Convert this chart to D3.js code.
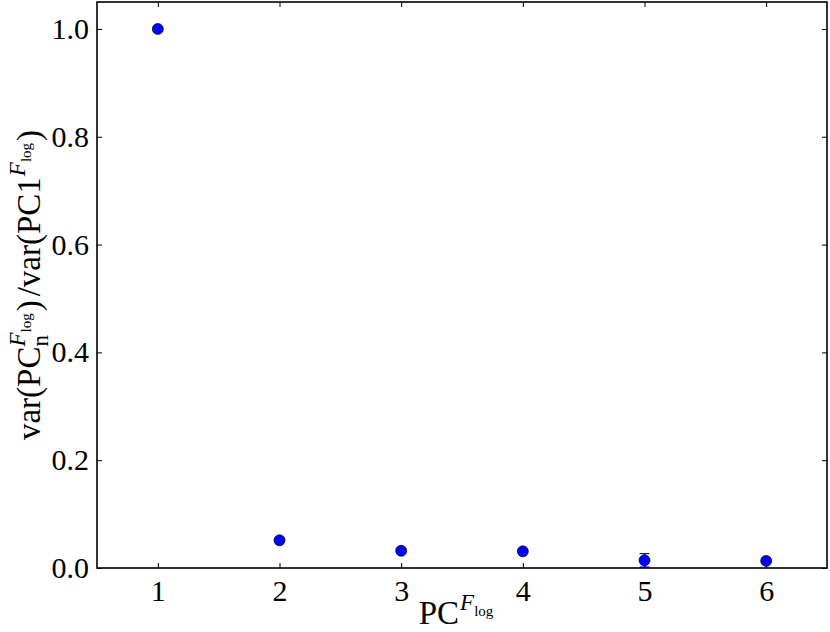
<!DOCTYPE html>
<html>
<head>
<meta charset="utf-8">
<script src="https://cdn.jsdelivr.net/npm/d3@7"></script>
<style>
  body { margin: 0; background: #fff; }
  svg { display: block; }
</style>
</head>
<body>
<svg id="chart" width="830" height="632"></svg>
<script>
// principal components (x) and normalised variance (y), with error bars
const components = [1, 2, 3, 4, 5, 6];
const varRatio = [1.0, 0.0514, 0.032, 0.031, 0.0143, 0.0132];
const varErr = [0.0, 0.004, 0.002, 0.002, 0.0125, 0.002];
const yTicks = [0.0, 0.2, 0.4, 0.6, 0.8, 1.0];

const SERIF = "'Liberation Serif', 'DejaVu Serif', serif";
const width = 830, height = 632;
const margin = {top: 2, right: 3, bottom: 64, left: 97};
const iw = width - margin.left - margin.right;
const ih = height - margin.top - margin.bottom;

const svg = d3.select("#chart");
const g = svg.append("g").attr("transform", `translate(${margin.left},${margin.top})`);

const x = d3.scaleLinear().domain([0.5, 6.5]).range([0, iw]);
const y = d3.scaleLinear().domain([0, 1.05]).range([ih, 0]);

// ticks, pointing inward on every side
const tickLen = 5;
const styleAxis = sel => {
  sel.attr("font-family", SERIF);
  sel.select(".domain").remove();
  sel.selectAll(".tick line").attr("stroke", "#000").attr("stroke-width", 1);
  sel.selectAll(".tick text").style("font-family", SERIF).style("font-size", "30px");
};
g.append("g").attr("transform", `translate(0,${ih})`)
  .call(d3.axisBottom(x).tickValues(components).tickFormat(d3.format("d"))
    .tickSizeInner(-tickLen).tickPadding(12))
  .call(styleAxis);
g.append("g")
  .call(d3.axisTop(x).tickValues(components).tickFormat("").tickSizeInner(-tickLen))
  .call(styleAxis);
g.append("g")
  .call(d3.axisLeft(y).tickValues(yTicks).tickFormat(d3.format(".1f"))
    .tickSizeInner(-tickLen).tickPadding(8))
  .call(styleAxis);
g.append("g").attr("transform", `translate(${iw},0)`)
  .call(d3.axisRight(y).tickValues(yTicks).tickFormat("").tickSizeInner(-tickLen))
  .call(styleAxis);

// error bars
const pts = components.map((c, i) => ({c, v: varRatio[i], e: varErr[i]}));
const eb = g.append("g").selectAll("g").data(pts.filter(d => d.e > 0)).join("g")
  .attr("stroke", "#0000ff").attr("stroke-width", 1.2);
eb.append("line")
  .attr("x1", d => x(d.c)).attr("x2", d => x(d.c))
  .attr("y1", d => y(d.v - d.e)).attr("y2", d => y(d.v + d.e));
eb.append("line")
  .attr("x1", d => x(d.c) - 5).attr("x2", d => x(d.c) + 5)
  .attr("y1", d => y(d.v + d.e)).attr("y2", d => y(d.v + d.e));
eb.append("line")
  .attr("x1", d => x(d.c) - 5).attr("x2", d => x(d.c) + 5)
  .attr("y1", d => y(d.v - d.e)).attr("y2", d => y(d.v - d.e));

// markers
g.append("g").selectAll("circle").data(pts).join("circle")
  .attr("cx", d => x(d.c)).attr("cy", d => y(d.v)).attr("r", 5.5)
  .attr("fill", "#0000ff").attr("stroke", "#000").attr("stroke-width", 0.7);

// frame
g.append("rect").attr("width", iw).attr("height", ih)
  .attr("fill", "none").attr("stroke", "#000").attr("stroke-width", 1.6);

// lay out a math-like label from pieces, measuring each to place the next
function mathLabel(parent, pieces) {
  const grp = parent.append("g");
  let cx = 0, stackX = 0;
  pieces.forEach(p => {
    const px = p.stack ? stackX : cx + (p.gap || 0);
    const t = grp.append("text").attr("x", px).attr("y", p.dy || 0)
      .style("font-family", SERIF)
      .style("font-size", p.size + "px")
      .style("font-style", p.italic ? "italic" : "normal")
      .text(p.t);
    const w = t.node().getComputedTextLength();
    if (!p.stack) stackX = px;
    cx = Math.max(cx, px + w);
  });
  return {grp, w: cx};
}

const flog = (base, gap) => [
  {t: "F", size: 23, dy: base, italic: true, gap: gap},
  {t: "log", size: 15, dy: base + 6}
];

// x axis label
const xl = mathLabel(svg, [{t: "PC", size: 33}].concat(flog(-14, 1)));
xl.grp.attr("transform", `translate(${margin.left + iw / 2 - 6 - xl.w / 2},${624})`);

// y axis label
const yl = mathLabel(svg, [
  {t: "var(PC", size: 33},
  {t: "n", size: 23, dy: 8},
  {t: "F", size: 23, dy: -15, italic: true, stack: true},
  {t: "log", size: 15, dy: -9},
  {t: ")", size: 33, gap: 2},
  {t: "/var(PC1", size: 33, gap: 4},
  {t: "F", size: 23, dy: -15, italic: true, gap: 1},
  {t: "log", size: 15, dy: -9},
  {t: ")", size: 33, gap: 2}
]);
yl.grp.attr("transform", `translate(40,${margin.top + ih / 2 + yl.w / 2}) rotate(-90)`);
</script>
</body>
</html>
